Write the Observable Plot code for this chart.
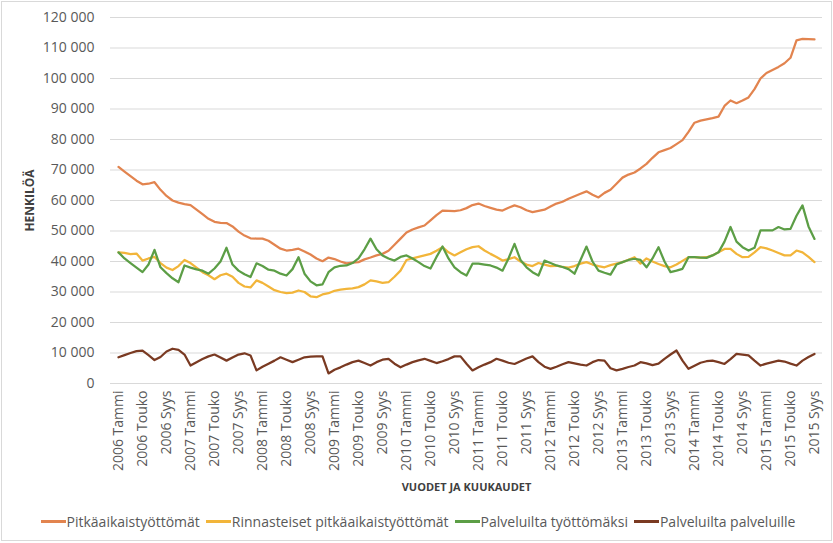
<!DOCTYPE html>
<html><head><meta charset="utf-8">
<script src="https://cdn.jsdelivr.net/npm/d3@7"></script>
<script src="https://cdn.jsdelivr.net/npm/@observablehq/plot@0.6"></script>
<style>
body{margin:0;background:#fff;font-family:"Open Sans",sans-serif;}
#wrap{position:relative;width:833px;height:543px;overflow:hidden;background:#fff;}
#chart{position:absolute;left:0;top:0;}
#legend{position:absolute;left:0;top:512px;width:836px;display:flex;justify-content:center;align-items:center;font-size:14px;color:#595959;white-space:nowrap;}
#legend .item{display:flex;align-items:center;margin:0 3px;}
#legend .sw{display:inline-block;width:25px;height:2.5px;margin-right:1px;}
#border{position:absolute;left:1px;top:1px;width:829px;height:538px;border:1px solid #d9d9d9;pointer-events:none;}
</style></head><body>
<div id="wrap"><div id="chart"></div><div id="legend"></div><div id="border"></div></div>
<script>
const years = [2006, 2007, 2008, 2009, 2010, 2011, 2012, 2013, 2014, 2015];
const months = ["Tammi","Helmi","Maalis","Huhti","Touko","Kesä","Heinä","Elo","Syys","Loka","Marras","Joulu"];
const periods = years.flatMap(y => months.map(m => `${y} ${m}`)).slice(0, 117); // 2006 Tammi … 2015 Syys

const seriesNames = ["Pitkäaikaistyöttömät", "Rinnasteiset pitkäaikaistyöttömät", "Palveluilta työttömäksi", "Palveluilta palveluille"];
const seriesColors = ["#E2844F", "#F2B53A", "#5C9E46", "#7A3A22"];

const pitkaaikaiset = [
71000,69500,68000,66500,65300,65500,66000,63500,61500,60000,59300,58800,
58500,57000,55500,54000,53000,52700,52600,51500,49800,48500,47600,47500,
47500,46800,45500,44200,43600,43800,44200,43300,42300,41000,40100,41300,
40800,40000,39400,39600,39800,40700,41300,42000,42500,43500,45500,47500,
49500,50500,51200,51800,53500,55200,56700,56600,56500,56800,57500,58500,
59000,58200,57600,57000,56700,57600,58400,57800,56800,56200,56600,57000,
58000,59000,59600,60600,61400,62200,63000,61900,61000,62500,63500,65500,
67500,68500,69200,70500,72000,74000,75800,76500,77200,78500,79800,82500,
85500,86200,86600,87000,87500,91000,92800,91900,92800,93800,96500,100000,
101800,102800,103800,105000,106800,112500,113000,112900,112800];

const rinnasteiset = [
43000,42800,42400,42600,40300,41000,41500,39500,38000,37200,38500,40500,
39500,38000,36500,35500,34200,35500,36000,35000,33000,31800,31500,33800,
33000,31800,30600,30000,29600,29800,30500,30000,28600,28300,29200,29600,
30400,30800,31000,31200,31600,32500,33800,33500,33000,33200,35000,37000,
40500,41000,41500,42000,42500,43500,44700,43000,42000,43000,44000,44700,
45000,43600,42500,41500,40300,40800,41400,40000,39000,38500,39500,39000,
38500,38600,38200,38000,38500,39300,39800,39000,38500,38100,38800,39300,
39800,40600,41400,39300,41000,40000,39200,38500,38100,39000,40200,41400,
41400,41300,41400,42000,43000,44100,44100,42500,41400,41500,43000,44700,
44300,43600,42800,42000,42000,43600,43000,41500,39800];

const tyottomaksi = [
43000,41000,39500,38000,36500,39000,43800,38100,36200,34500,33200,38700,
38000,37400,37000,36000,37700,40000,44500,39000,37000,35800,34900,39400,
38500,37300,37000,36000,35400,37500,41400,36000,33500,32200,32500,36500,
38100,38600,38700,39500,41000,44000,47500,44000,42000,41000,40300,41500,
42000,41000,39800,38500,37700,41500,44900,41000,38100,36500,35400,39300,
39300,39000,38700,38000,37000,41000,45800,40500,38100,36500,35400,40300,
39500,38700,38200,37500,36000,40500,44900,40000,37000,36300,35700,39000,
39800,40500,40900,40500,38100,41000,44700,40000,36500,37000,37600,41400,
41400,41300,41200,42000,43000,46500,51300,46500,44700,43600,44500,50200,
50200,50200,51300,50500,50700,55000,58400,51500,47400];

const palveluille = [
8600,9300,10000,10600,10800,9300,7700,8700,10500,11400,11000,9500,
5900,7000,8000,8900,9500,8500,7500,8500,9500,9900,9200,4300,
5500,6500,7500,8600,7800,7000,7800,8600,8800,8900,8900,3300,
4500,5300,6200,7000,7500,6700,5900,7000,7800,8100,6500,5300,
6200,7000,7600,8100,7400,6700,7300,8000,8900,8900,6500,4300,
5300,6200,7000,8100,7500,6800,6400,7300,8200,8900,7000,5500,
4800,5500,6300,7000,6600,6200,5900,7000,7700,7500,5000,4300,
4800,5400,5900,7000,6600,6000,6500,8100,9500,10800,7500,4800,
5800,6800,7300,7500,7000,6400,8000,9700,9500,9200,7500,5900,
6500,7000,7500,7200,6500,5900,7500,8700,9700];

const seriesValues = [pitkaaikaiset, rinnasteiset, tyottomaksi, palveluille];
const data = seriesNames.flatMap((s, k) => seriesValues[k].map((v, i) => ({period: periods[i], series: s, value: v})));
const tickPeriods = periods.filter((d, i) => i % 4 === 0);

const fmt = d3.formatLocale({decimal: ",", thousands: "\u00a0", grouping: [3], currency: ["", "€"]}).format(",d");

const chart = Plot.plot({
  width: 833, height: 505,
  marginLeft: 110, marginRight: 11, marginTop: 17, marginBottom: 122,
  style: {fontFamily: "Open Sans, sans-serif", fontSize: "14px", color: "#595959", background: "transparent", overflow: "visible"},
  x: {type: "point", domain: periods, padding: 0, label: null},
  y: {domain: [0, 120000], label: null},
  color: {domain: seriesNames, range: seriesColors},
  marks: [
    Plot.gridY({ticks: 12, stroke: "#d9d9d9", strokeOpacity: 1, strokeWidth: 1}),
    Plot.axisY({ticks: 12, tickSize: 0, tickPadding: 16, tickFormat: fmt, label: null, fontSize: 14, fill: "#595959"}),
    Plot.axisX({ticks: tickPeriods, tickSize: 0, tickPadding: 7, tickRotate: -90, label: null, fontSize: 14, fill: "#595959"}),
    Plot.line(data, {x: "period", y: "value", z: "series", stroke: "series", strokeWidth: 2.25, strokeLinejoin: "round"}),
    Plot.text(["VUODET JA KUUKAUDET"], {frameAnchor: "bottom", dy: 104, lineAnchor: "middle", fontWeight: "bold", fontSize: 11, fill: "#404040"}),
    Plot.text(["HENKILÖÄ"], {frameAnchor: "left", dx: -80, rotate: -90, textAnchor: "middle", fontWeight: "bold", fontSize: 12, fill: "#404040"})
  ]
});
document.getElementById("chart").appendChild(chart);

const legend = document.getElementById("legend");
seriesNames.forEach((s, k) => {
  const item = document.createElement("span");
  item.className = "item";
  const sw = document.createElement("span");
  sw.className = "sw";
  sw.style.background = seriesColors[k];
  item.appendChild(sw);
  item.appendChild(document.createTextNode(s));
  legend.appendChild(item);
});
</script>
</body></html>
